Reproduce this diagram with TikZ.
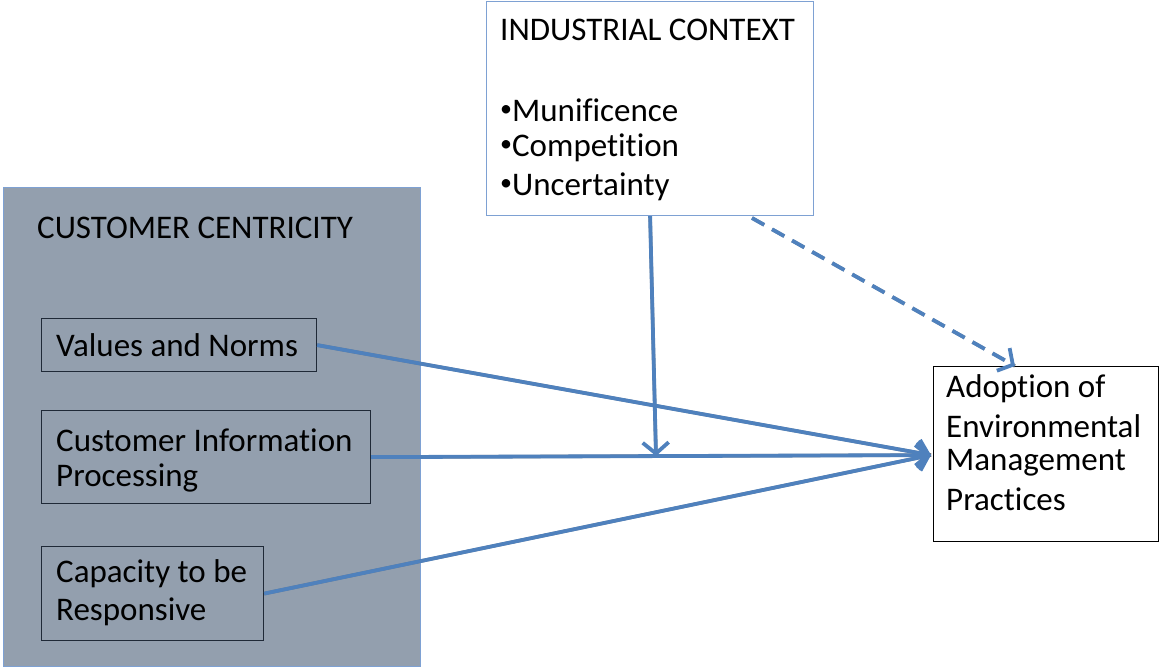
\documentclass[tikz,border=0pt]{standalone}
\usepackage{fontspec}
\setmainfont[Ligatures=NoCommon]{Carlito}
\usetikzlibrary{arrows.meta,calc}
\definecolor{bgray}{HTML}{939FAE}
\definecolor{lblue}{HTML}{7EA1D3}
\definecolor{ablue}{HTML}{4F81BD}
\definecolor{dbox}{HTML}{1F2937}
\definecolor{shad}{HTML}{5F5F5F}
\newcommand{\bul}{\raisebox{5pt}{\fontsize{24}{24}\selectfont\textbullet}}
\tikzset{
  x=1pt,y=-1pt,
  every node/.style={font=\fontsize{33}{40}\selectfont, text=black},
  inbox/.style={draw=dbox, line width=1.2pt, fill=none, inner sep=0, anchor=north west},
  txt/.style={inner sep=0, anchor=west, align=left},
  conn/.style={draw=ablue, line width=3.8pt},
  shadowline/.style={draw=shad, line width=3.5pt, opacity=0.7},
  tip/.style={-{Straight Barb[length=11pt,width=26pt,line width=3.8pt]}},
}
\begin{document}
\begin{tikzpicture}
\useasboundingbox (0,0) rectangle (1159,669);
% customer centricity panel
\node[fill=bgray, draw=lblue, line width=1.2pt, inner sep=0, anchor=north west,
  minimum width=417, minimum height=479] (cc) at (3,187) {};
\node[txt] (cct) at (37,228) {CUSTOMER CENTRICITY};
\node[inbox, minimum width=275, minimum height=53] (vn) at (41,318) {};
\node[txt] at (56,345) {Values and Norms};
\node[inbox, minimum width=329, minimum height=93] (ci) at (41,410) {};
\node[txt] at (56,440) {Customer Information};
\node[txt] at (56,478) {Processing};
\node[inbox, minimum width=222, minimum height=94] (cr) at (41,546) {};
\node[txt] at (56,574) {Capacity to be};
\node[txt] at (56,612) {Responsive};
% industrial context
\node[fill=white, draw=lblue, line width=1.2pt, inner sep=0, anchor=north west,
  minimum width=327, minimum height=214] (ic) at (486,1) {};
\node[txt] at (500,30) {INDUSTRIAL CONTEXT};
\node[txt] at (500,110) {\bul Munificence};
\node[txt] at (500,148) {\bul Competition};
\node[txt] at (500,187) {\bul Uncertainty};
% adoption box
\node[fill=white, draw=black, line width=1.2pt, inner sep=0, anchor=north west,
  minimum width=225, minimum height=175] (ad) at (933,366) {};
\node[txt] at (946,389) {Adoption of};
\node[txt] at (946,426) {Environmental};
\node[txt] at (946,463) {Management};
\node[txt] at (946,499) {Practices};
% connector points
\coordinate (tgt) at ($(ad.west)+(-2,1)$);
\coordinate (mid) at (656,456);
\coordinate (ds) at (752,218);
\coordinate (de) at (1015,366);
% shadows
\begin{scope}[shift={(1.5,2.5)}]
\draw[shadowline] (vn.east) -- (tgt);
\draw[shadowline] (ci.east) -- (tgt);
\draw[shadowline] (cr.east) -- (tgt);
\draw[shadowline] (ic.south) -- (mid);
\draw[shadowline, dash pattern=on 14pt off 9pt] (ds) -- (de);
\end{scope}
% connectors
\draw[conn, tip] (vn.east) -- (tgt);
\draw[conn, tip] (ci.east) -- (tgt);
\draw[conn, tip] (cr.east) -- (tgt);
\draw[conn, tip] (ic.south) -- (mid);
\draw[conn, tip, dash pattern=on 14pt off 9pt] (ds) -- (de);
\end{tikzpicture}
\end{document}
